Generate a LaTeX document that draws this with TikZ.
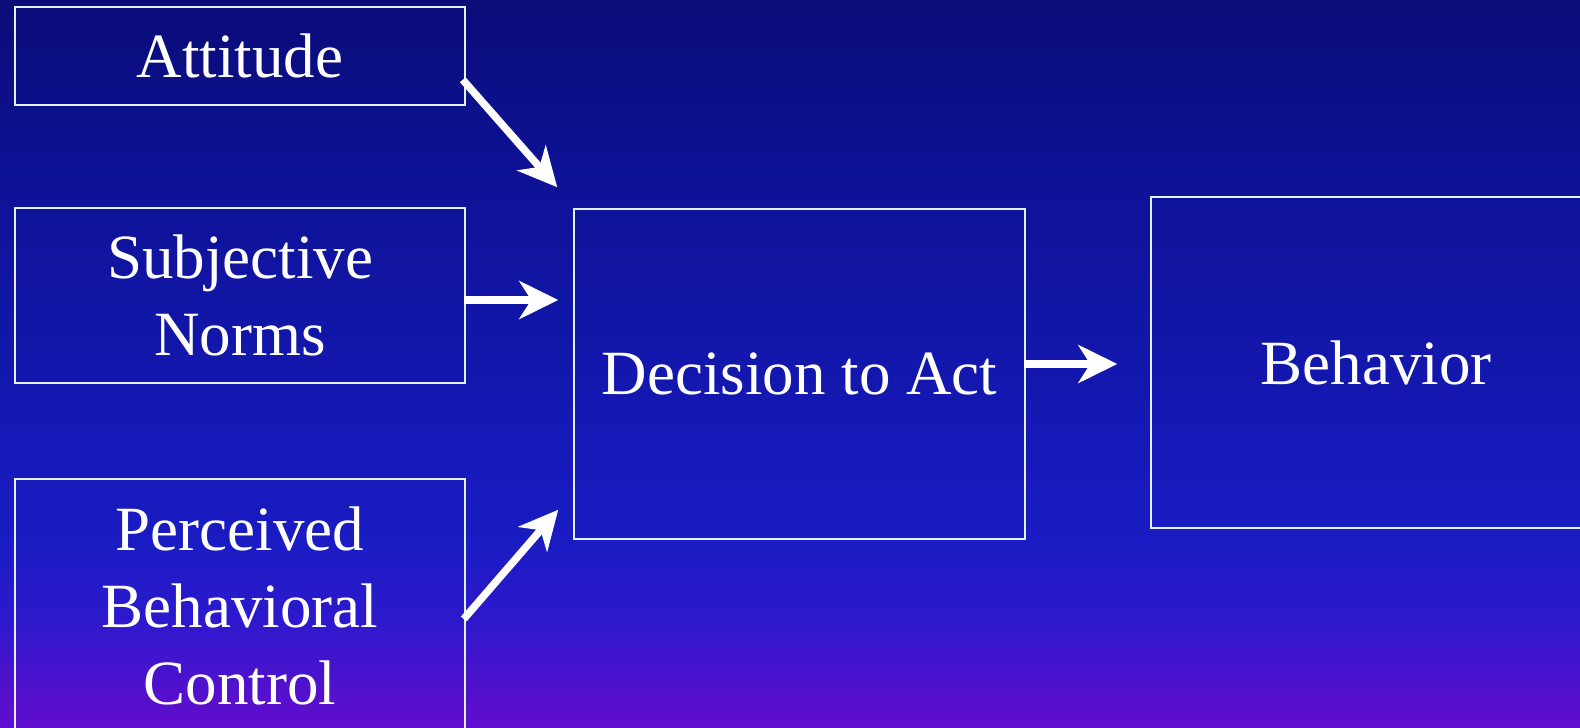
\documentclass[tikz,border=0pt]{standalone}
\usepackage{fontspec}
\setmainfont{Liberation Serif}
\usetikzlibrary{arrows.meta,calc}

\definecolor{bgA}{HTML}{600DD2}
\definecolor{bgB}{HTML}{5A0FCD}
\definecolor{bgC}{HTML}{2D19CD}
\definecolor{bgD}{HTML}{1A1CC3}
\definecolor{bgE}{HTML}{1317AC}
\definecolor{bgF}{HTML}{0E1296}
\definecolor{bgG}{HTML}{0A0C78}
\definecolor{boxline}{HTML}{E2F0FF}

% stops 25bp..75bp cover the shaded path
\pgfdeclareverticalshading{slidebg}{100bp}{color(0bp)=(bgA); color(25bp)=(bgA); color(26.5bp)=(bgB); color(32.5bp)=(bgC); color(38bp)=(bgD); color(50bp)=(bgE); color(62.5bp)=(bgF); color(75bp)=(bgG); color(100bp)=(bgG)}

\begin{document}
\begin{tikzpicture}[x=0.5pt,y=-0.5pt,
  font=\fontsize{31.5}{38.5}\selectfont,
  box/.style={draw=boxline,line width=0.75pt,text=white,align=center,inner sep=0pt},
  arr/.style={draw=white,line width=3.75pt,-{Stealth[length=19.5pt,width=19pt,inset=6pt]}}]

%background
    \useasboundingbox (0,0) rectangle (1580,728);
    \clip (0,0) rectangle (1580,728);
    \shade[shading=slidebg] (0,0) rectangle (1580,728);

%factors
    \node[box,minimum width=225pt,minimum height=49pt] (att) at (240,56) {Attitude};
    \node[box,minimum width=225pt,minimum height=87.5pt] (sub) at (240,295.5) {Subjective\\Norms};
    \node[box,minimum width=225pt,minimum height=127pt] (per) at (240,606) {Perceived\\Behavioral\\Control};

%decision and behavior
    \node[box,minimum width=225.5pt,minimum height=165pt] (dec) at (799.5,374) {Decision to Act};
    \node[box,minimum width=225pt,minimum height=165.5pt] (beh) at (1376,362.5) {Behavior};

%arrows
    \draw[arr] ($(att.south east)+(-3,-26)$) -- ($(dec.north west)+(-16,-21)$);
    \draw[arr] ($(sub.east)+(-2,4.5)$) -- ($(dec.west |- sub.east)+(-15,4.5)$);
    \draw[arr] ($(per.east)+(-2,13)$) -- ($(dec.south west)+(-15,-30)$);
    \draw[arr] ($(dec.east)+(-2,-10)$) -- ($(beh.west)+(-33,1.5)$);

\end{tikzpicture}
\end{document}
